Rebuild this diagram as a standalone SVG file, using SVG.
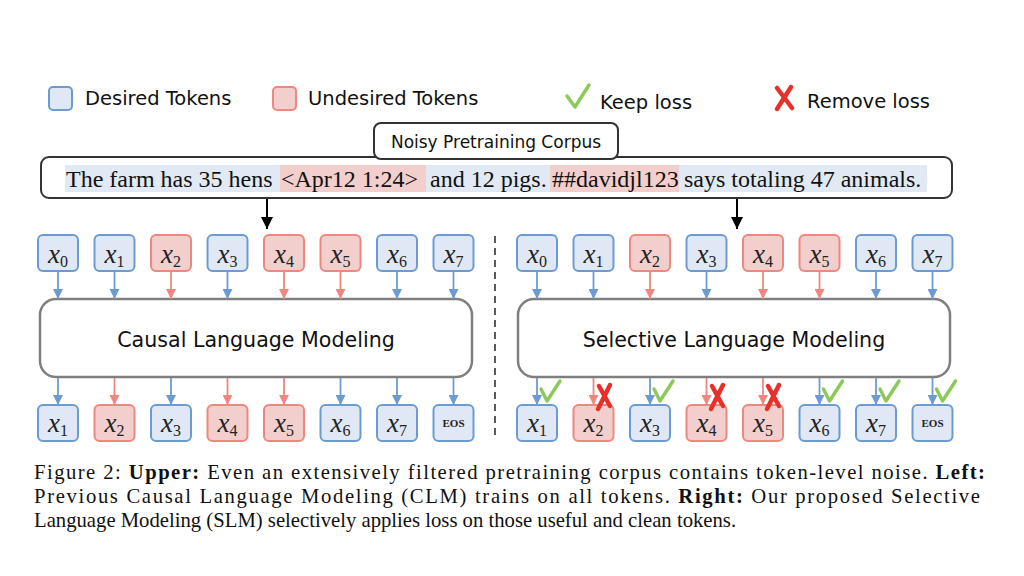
<svg xmlns="http://www.w3.org/2000/svg" width="1024" height="576" viewBox="0 0 1024 576">
<defs>
<style>
.sans{font-family:"DejaVu Sans","Verdana",sans-serif;fill:#111}
.serif{font-family:"Liberation Serif","Times New Roman",serif;fill:#111}
.tok{font-family:"Liberation Serif","DejaVu Serif",serif;font-style:italic;font-size:27px;fill:#222}
.sub{font-style:normal;font-size:16px}
.eos{font-family:"Liberation Serif",serif;font-weight:bold;font-size:11px;fill:#222}
.bt{fill:#dfe8f4;stroke:#6b9bd2;stroke-width:2}
.rt{fill:#f2cfcd;stroke:#ee877e;stroke-width:2}
.ba{stroke:#6b9bd2;stroke-width:1.8;fill:none}
.ra{stroke:#f0877e;stroke-width:1.8;fill:none}
.ka{stroke:#000;stroke-width:2;fill:none}
.chk{stroke:#8cc95a;stroke-width:3.5;fill:none;stroke-linecap:round;stroke-linejoin:round}
.crs{stroke:#e8302a;stroke-width:4.5;fill:none;stroke-linecap:round}
.model{fill:#fff;stroke:#7f7f7f;stroke-width:2.5}
.hb{fill:#e0e9f4}
.hr{fill:#f2cfcd}
</style>
<marker id="mb" markerUnits="userSpaceOnUse" markerWidth="10" markerHeight="10" refX="10" refY="5" orient="auto"><path d="M0,0 L10,5 L0,10 z" fill="#6b9bd2"/></marker>
<marker id="mr" markerUnits="userSpaceOnUse" markerWidth="10" markerHeight="10" refX="10" refY="5" orient="auto"><path d="M0,0 L10,5 L0,10 z" fill="#f0877e"/></marker>
<marker id="mk" markerUnits="userSpaceOnUse" markerWidth="12" markerHeight="12" refX="12" refY="6" orient="auto"><path d="M0,0 L12,6 L0,12 z" fill="#000"/></marker>
</defs>
<rect width="1024" height="576" fill="#fff"/>

<g id="legend">
<rect x="49" y="87" width="23" height="23" rx="4" class="bt"/>
<text x="85" y="105" class="sans" font-size="19.5">Desired Tokens</text>
<rect x="273" y="87" width="23" height="23" rx="4" class="rt"/>
<text x="308" y="105" class="sans" font-size="19.5">Undesired Tokens</text>
<path d="M567,96 L575,107 L589,85" class="chk"/>
<text x="600" y="109" class="sans" font-size="19.5">Keep loss</text>
<path d="M777,88 L792,108 M791,87 L777,109" class="crs"/>
<text x="807" y="108" class="sans" font-size="19.5">Remove loss</text>
</g>

<g id="corpus">
<rect x="41" y="157" width="911" height="41" rx="8" fill="#fff" stroke="#333" stroke-width="2"/>
<rect x="65" y="165" width="215" height="27" class="hb"/>
<rect x="280" y="165" width="146" height="27" class="hr"/>
<rect x="426" y="165" width="124" height="27" class="hb"/>
<rect x="550" y="165" width="129" height="27" class="hr"/>
<rect x="679" y="165" width="248" height="27" class="hb"/>
<text y="187" class="serif" font-size="24"><tspan x="66">The farm has 35 hens</tspan><tspan x="281">&lt;Apr12 1:24&gt;</tspan><tspan x="430">and 12 pigs.</tspan><tspan x="552">##davidjl123</tspan><tspan x="684">says totaling 47 animals.</tspan></text>
</g>

<g id="noisy-label">
<rect x="374" y="123" width="244" height="36" rx="7" fill="#fff" stroke="#333" stroke-width="2"/>
<text x="496" y="148" text-anchor="middle" class="sans" font-size="17">Noisy Pretraining Corpus</text>
</g>

<g id="divider">
<line x1="495" y1="236" x2="495" y2="438" stroke="#333" stroke-width="1.6" stroke-dasharray="7,5"/>
</g>

<g id="clm">
<rect x="40" y="299" width="432" height="78" rx="16" class="model"/>
<text x="256" y="347" text-anchor="middle" class="sans" font-size="20.6">Causal Language Modeling</text>
</g>
<g id="slm">
<rect x="518" y="299" width="432" height="78" rx="16" class="model"/>
<text x="734" y="347" text-anchor="middle" class="sans" font-size="20.6">Selective Language Modeling</text>
</g>

<g id="left-inputs">
<g id="L-in0"><rect x="38" y="235" width="40" height="36" rx="5" class="bt"/><text x="58" y="263" text-anchor="middle" class="tok">x<tspan class="sub" dy="4">0</tspan></text></g>
<g id="L-in1"><rect x="94.5" y="235" width="40" height="36" rx="5" class="bt"/><text x="114.5" y="263" text-anchor="middle" class="tok">x<tspan class="sub" dy="4">1</tspan></text></g>
<g id="L-in2"><rect x="151" y="235" width="40" height="36" rx="5" class="rt"/><text x="171" y="263" text-anchor="middle" class="tok">x<tspan class="sub" dy="4">2</tspan></text></g>
<g id="L-in3"><rect x="207.5" y="235" width="40" height="36" rx="5" class="bt"/><text x="227.5" y="263" text-anchor="middle" class="tok">x<tspan class="sub" dy="4">3</tspan></text></g>
<g id="L-in4"><rect x="264" y="235" width="40" height="36" rx="5" class="rt"/><text x="284" y="263" text-anchor="middle" class="tok">x<tspan class="sub" dy="4">4</tspan></text></g>
<g id="L-in5"><rect x="320.5" y="235" width="40" height="36" rx="5" class="rt"/><text x="340.5" y="263" text-anchor="middle" class="tok">x<tspan class="sub" dy="4">5</tspan></text></g>
<g id="L-in6"><rect x="377" y="235" width="40" height="36" rx="5" class="bt"/><text x="397" y="263" text-anchor="middle" class="tok">x<tspan class="sub" dy="4">6</tspan></text></g>
<g id="L-in7"><rect x="433.5" y="235" width="40" height="36" rx="5" class="bt"/><text x="453.5" y="263" text-anchor="middle" class="tok">x<tspan class="sub" dy="4">7</tspan></text></g>
</g>

<g id="left-outputs">
<g id="L-out1"><rect x="38" y="405" width="40" height="36" rx="5" class="bt"/><text x="58" y="432" text-anchor="middle" class="tok">x<tspan class="sub" dy="4">1</tspan></text></g>
<g id="L-out2"><rect x="94.5" y="405" width="40" height="36" rx="5" class="rt"/><text x="114.5" y="432" text-anchor="middle" class="tok">x<tspan class="sub" dy="4">2</tspan></text></g>
<g id="L-out3"><rect x="151" y="405" width="40" height="36" rx="5" class="bt"/><text x="171" y="432" text-anchor="middle" class="tok">x<tspan class="sub" dy="4">3</tspan></text></g>
<g id="L-out4"><rect x="207.5" y="405" width="40" height="36" rx="5" class="rt"/><text x="227.5" y="432" text-anchor="middle" class="tok">x<tspan class="sub" dy="4">4</tspan></text></g>
<g id="L-out5"><rect x="264" y="405" width="40" height="36" rx="5" class="rt"/><text x="284" y="432" text-anchor="middle" class="tok">x<tspan class="sub" dy="4">5</tspan></text></g>
<g id="L-out6"><rect x="320.5" y="405" width="40" height="36" rx="5" class="bt"/><text x="340.5" y="432" text-anchor="middle" class="tok">x<tspan class="sub" dy="4">6</tspan></text></g>
<g id="L-out7"><rect x="377" y="405" width="40" height="36" rx="5" class="bt"/><text x="397" y="432" text-anchor="middle" class="tok">x<tspan class="sub" dy="4">7</tspan></text></g>
<g id="L-outEOS"><rect x="433.5" y="405" width="40" height="36" rx="5" class="bt"/><text x="453.5" y="427" text-anchor="middle" class="eos">EOS</text></g>
</g>

<g id="right-inputs">
<g id="R-in0"><rect x="517" y="235" width="40" height="36" rx="5" class="bt"/><text x="537" y="263" text-anchor="middle" class="tok">x<tspan class="sub" dy="4">0</tspan></text></g>
<g id="R-in1"><rect x="573.5" y="235" width="40" height="36" rx="5" class="bt"/><text x="593.5" y="263" text-anchor="middle" class="tok">x<tspan class="sub" dy="4">1</tspan></text></g>
<g id="R-in2"><rect x="630" y="235" width="40" height="36" rx="5" class="rt"/><text x="650" y="263" text-anchor="middle" class="tok">x<tspan class="sub" dy="4">2</tspan></text></g>
<g id="R-in3"><rect x="686.5" y="235" width="40" height="36" rx="5" class="bt"/><text x="706.5" y="263" text-anchor="middle" class="tok">x<tspan class="sub" dy="4">3</tspan></text></g>
<g id="R-in4"><rect x="743" y="235" width="40" height="36" rx="5" class="rt"/><text x="763" y="263" text-anchor="middle" class="tok">x<tspan class="sub" dy="4">4</tspan></text></g>
<g id="R-in5"><rect x="799.5" y="235" width="40" height="36" rx="5" class="rt"/><text x="819.5" y="263" text-anchor="middle" class="tok">x<tspan class="sub" dy="4">5</tspan></text></g>
<g id="R-in6"><rect x="856" y="235" width="40" height="36" rx="5" class="bt"/><text x="876" y="263" text-anchor="middle" class="tok">x<tspan class="sub" dy="4">6</tspan></text></g>
<g id="R-in7"><rect x="912.5" y="235" width="40" height="36" rx="5" class="bt"/><text x="932.5" y="263" text-anchor="middle" class="tok">x<tspan class="sub" dy="4">7</tspan></text></g>
</g>

<g id="right-outputs">
<g id="R-out1"><rect x="517" y="405" width="40" height="36" rx="5" class="bt"/><text x="537" y="432" text-anchor="middle" class="tok">x<tspan class="sub" dy="4">1</tspan></text></g>
<g id="R-out2"><rect x="573.5" y="405" width="40" height="36" rx="5" class="rt"/><text x="593.5" y="432" text-anchor="middle" class="tok">x<tspan class="sub" dy="4">2</tspan></text></g>
<g id="R-out3"><rect x="630" y="405" width="40" height="36" rx="5" class="bt"/><text x="650" y="432" text-anchor="middle" class="tok">x<tspan class="sub" dy="4">3</tspan></text></g>
<g id="R-out4"><rect x="686.5" y="405" width="40" height="36" rx="5" class="rt"/><text x="706.5" y="432" text-anchor="middle" class="tok">x<tspan class="sub" dy="4">4</tspan></text></g>
<g id="R-out5"><rect x="743" y="405" width="40" height="36" rx="5" class="rt"/><text x="763" y="432" text-anchor="middle" class="tok">x<tspan class="sub" dy="4">5</tspan></text></g>
<g id="R-out6"><rect x="799.5" y="405" width="40" height="36" rx="5" class="bt"/><text x="819.5" y="432" text-anchor="middle" class="tok">x<tspan class="sub" dy="4">6</tspan></text></g>
<g id="R-out7"><rect x="856" y="405" width="40" height="36" rx="5" class="bt"/><text x="876" y="432" text-anchor="middle" class="tok">x<tspan class="sub" dy="4">7</tspan></text></g>
<g id="R-outEOS"><rect x="912.5" y="405" width="40" height="36" rx="5" class="bt"/><text x="932.5" y="427" text-anchor="middle" class="eos">EOS</text></g>
</g>

<g id="connectors">
<line x1="267" y1="199" x2="267" y2="229" class="ka" marker-end="url(#mk)"/>
<line x1="737" y1="199" x2="737" y2="229" class="ka" marker-end="url(#mk)"/>
<line x1="58" y1="272" x2="58" y2="299" class="ba" marker-end="url(#mb)"/>
<line x1="114.5" y1="272" x2="114.5" y2="299" class="ba" marker-end="url(#mb)"/>
<line x1="171" y1="272" x2="171" y2="299" class="ra" marker-end="url(#mr)"/>
<line x1="227.5" y1="272" x2="227.5" y2="299" class="ba" marker-end="url(#mb)"/>
<line x1="284" y1="272" x2="284" y2="299" class="ra" marker-end="url(#mr)"/>
<line x1="340.5" y1="272" x2="340.5" y2="299" class="ra" marker-end="url(#mr)"/>
<line x1="397" y1="272" x2="397" y2="299" class="ba" marker-end="url(#mb)"/>
<line x1="453.5" y1="272" x2="453.5" y2="299" class="ba" marker-end="url(#mb)"/>
<line x1="58" y1="378" x2="58" y2="405" class="ba" marker-end="url(#mb)"/>
<line x1="114.5" y1="378" x2="114.5" y2="405" class="ra" marker-end="url(#mr)"/>
<line x1="171" y1="378" x2="171" y2="405" class="ba" marker-end="url(#mb)"/>
<line x1="227.5" y1="378" x2="227.5" y2="405" class="ra" marker-end="url(#mr)"/>
<line x1="284" y1="378" x2="284" y2="405" class="ra" marker-end="url(#mr)"/>
<line x1="340.5" y1="378" x2="340.5" y2="405" class="ba" marker-end="url(#mb)"/>
<line x1="397" y1="378" x2="397" y2="405" class="ba" marker-end="url(#mb)"/>
<line x1="453.5" y1="378" x2="453.5" y2="405" class="ba" marker-end="url(#mb)"/>
<line x1="537" y1="272" x2="537" y2="299" class="ba" marker-end="url(#mb)"/>
<line x1="593.5" y1="272" x2="593.5" y2="299" class="ba" marker-end="url(#mb)"/>
<line x1="650" y1="272" x2="650" y2="299" class="ra" marker-end="url(#mr)"/>
<line x1="706.5" y1="272" x2="706.5" y2="299" class="ba" marker-end="url(#mb)"/>
<line x1="763" y1="272" x2="763" y2="299" class="ra" marker-end="url(#mr)"/>
<line x1="819.5" y1="272" x2="819.5" y2="299" class="ra" marker-end="url(#mr)"/>
<line x1="876" y1="272" x2="876" y2="299" class="ba" marker-end="url(#mb)"/>
<line x1="932.5" y1="272" x2="932.5" y2="299" class="ba" marker-end="url(#mb)"/>
<line x1="537" y1="378" x2="537" y2="405" class="ba" marker-end="url(#mb)"/>
<line x1="593.5" y1="378" x2="593.5" y2="405" class="ra" marker-end="url(#mr)"/>
<line x1="650" y1="378" x2="650" y2="405" class="ba" marker-end="url(#mb)"/>
<line x1="706.5" y1="378" x2="706.5" y2="405" class="ra" marker-end="url(#mr)"/>
<line x1="763" y1="378" x2="763" y2="405" class="ra" marker-end="url(#mr)"/>
<line x1="819.5" y1="378" x2="819.5" y2="405" class="ba" marker-end="url(#mb)"/>
<line x1="876" y1="378" x2="876" y2="405" class="ba" marker-end="url(#mb)"/>
<line x1="932.5" y1="378" x2="932.5" y2="405" class="ba" marker-end="url(#mb)"/>
</g>

<g id="loss-marks">
<path d="M541,389 L547,401 L560,381" class="chk"/>
<path d="M599,386 L610,406 M610,385 L598,409" class="crs"/>
<path d="M654,389 L660,401 L673,381" class="chk"/>
<path d="M712,386 L723,406 M723,385 L711,409" class="crs"/>
<path d="M768,386 L779,406 M779,385 L767,409" class="crs"/>
<path d="M823.5,389 L829.5,401 L842.5,381" class="chk"/>
<path d="M880,389 L886,401 L899,381" class="chk"/>
<path d="M936.5,389 L942.5,401 L955.5,381" class="chk"/>
</g>

<g id="caption" class="serif" font-size="20.7">
<text x="34" y="479" textLength="951" lengthAdjust="spacing">Figure 2: <tspan font-weight="bold">Upper:</tspan> Even an extensively filtered pretraining corpus contains token-level noise. <tspan font-weight="bold">Left:</tspan></text>
<text x="34" y="503" textLength="946" lengthAdjust="spacing">Previous Causal Language Modeling (CLM) trains on all tokens.  <tspan font-weight="bold">Right:</tspan> Our proposed Selective</text>
<text x="34" y="527">Language Modeling (SLM) selectively applies loss on those useful and clean tokens.</text>
</g>
</svg>
